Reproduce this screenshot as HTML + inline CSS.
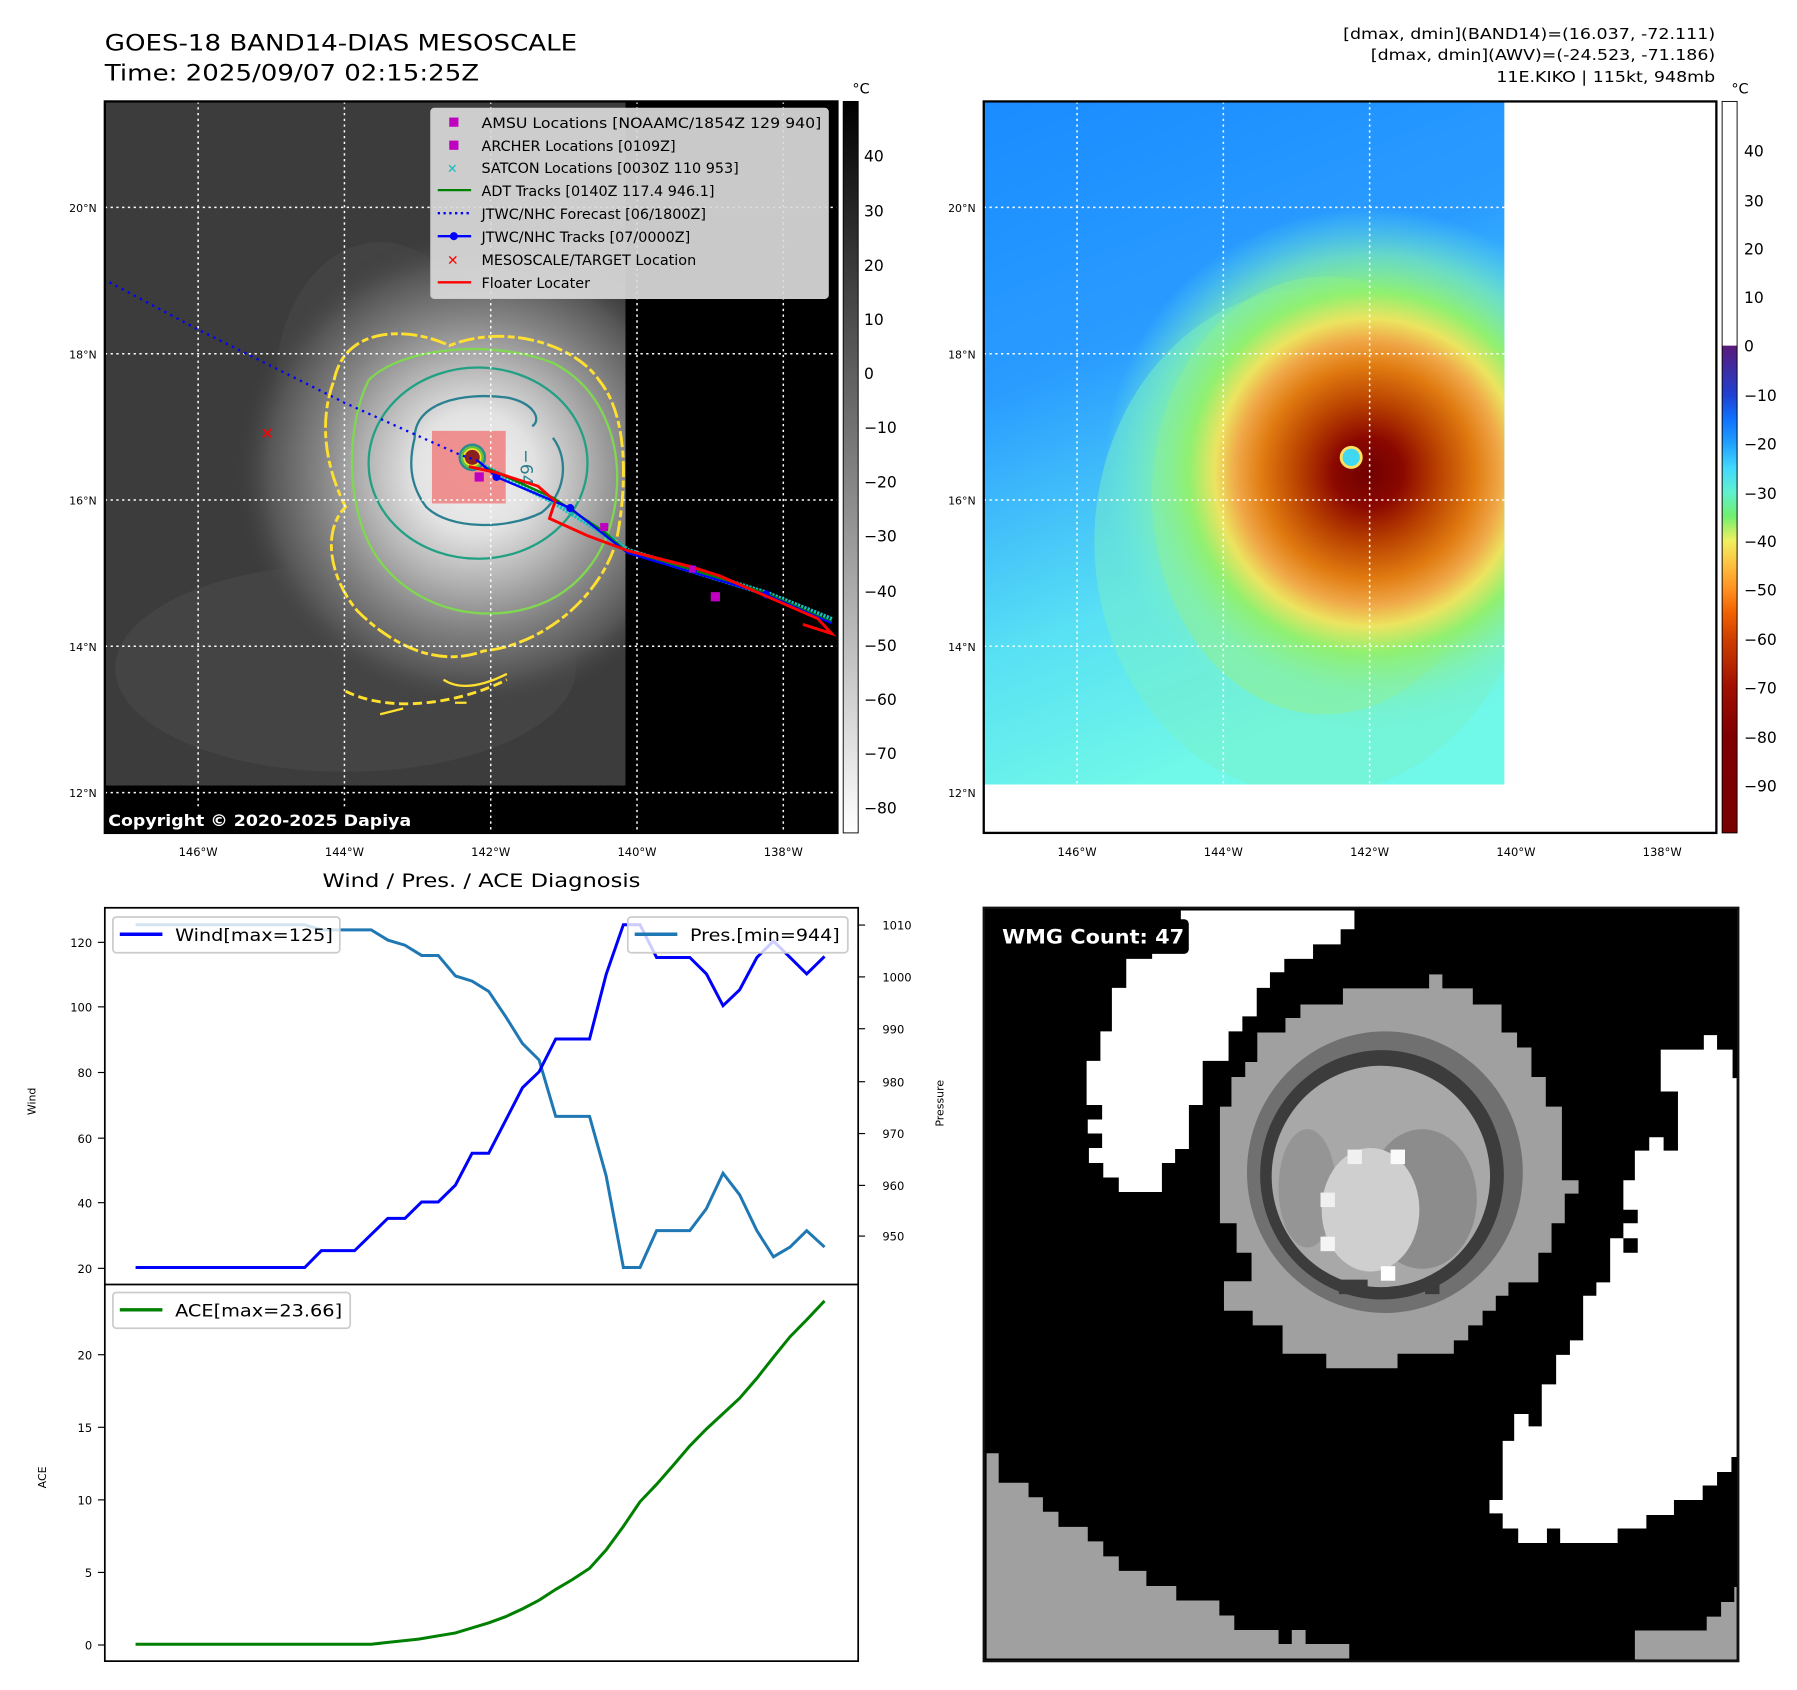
<!DOCTYPE html>
<html><head><meta charset="utf-8"><style>
html,body{margin:0;padding:0;background:#fff}
svg{display:block}
text{font-family:"DejaVu Sans","Liberation Sans",sans-serif}
</style></head><body>
<svg width="1797" height="1690" viewBox="0 0 1560 1467" xmlns="http://www.w3.org/2000/svg">
<defs>
<radialGradient id="cloud" cx="412" cy="410" r="210" gradientUnits="userSpaceOnUse">
<stop offset="0" stop-color="#f2f2f2"/><stop offset="0.25" stop-color="#e2e2e2"/><stop offset="0.45" stop-color="#b4b4b4"/><stop offset="0.65" stop-color="#828282"/><stop offset="0.85" stop-color="#565656"/><stop offset="1" stop-color="#3c3c3c" stop-opacity="0"/>
</radialGradient>
<linearGradient id="cb1" x1="0" y1="0" x2="0" y2="1"><stop offset="0" stop-color="#000"/><stop offset="1" stop-color="#fff"/></linearGradient>
<linearGradient id="cb2" x1="0" y1="0" x2="0" y2="1">
<stop offset="0" stop-color="#5a1a7a"/><stop offset="0.1" stop-color="#2040d0"/><stop offset="0.15" stop-color="#1070ff"/><stop offset="0.2" stop-color="#20a0ff"/><stop offset="0.25" stop-color="#40d8ff"/><stop offset="0.3" stop-color="#60f0d0"/><stop offset="0.35" stop-color="#70f070"/><stop offset="0.4" stop-color="#f0f060"/><stop offset="0.45" stop-color="#ffc040"/><stop offset="0.5" stop-color="#ff9020"/><stop offset="0.55" stop-color="#f06000"/><stop offset="0.6" stop-color="#d04000"/><stop offset="0.7" stop-color="#a01000"/><stop offset="0.8" stop-color="#800000"/><stop offset="1" stop-color="#7a0000"/></linearGradient>
<linearGradient id="bg2" x1="0" y1="0" x2="0.3" y2="1"><stop offset="0" stop-color="#1a8cff"/><stop offset="0.4" stop-color="#2a9cff"/><stop offset="0.75" stop-color="#58e0f4"/><stop offset="1" stop-color="#70f8e8"/></linearGradient>
<radialGradient id="storm2" cx="1188" cy="410" r="230" gradientUnits="userSpaceOnUse">
<stop offset="0" stop-color="#700000"/><stop offset="0.13" stop-color="#8a0800"/><stop offset="0.26" stop-color="#b84000"/><stop offset="0.4" stop-color="#e07a10"/><stop offset="0.5" stop-color="#f0a848"/><stop offset="0.58" stop-color="#ece460"/><stop offset="0.68" stop-color="#90f070"/><stop offset="0.82" stop-color="#80f0b0" stop-opacity="0.7"/><stop offset="1" stop-color="#70f0e0" stop-opacity="0"/></radialGradient>
<clipPath id="c1"><rect x="91" y="88" width="452" height="594"/></clipPath>
<clipPath id="c2"><rect x="854" y="88" width="452" height="593"/></clipPath>
<clipPath id="m1"><rect x="91" y="88" width="636" height="635"/></clipPath>
</defs>

<text x="91" y="44" font-size="19.5" textLength="410" lengthAdjust="spacingAndGlyphs">GOES-18 BAND14-DIAS MESOSCALE</text>
<text x="91" y="70" font-size="19.5" textLength="325" lengthAdjust="spacingAndGlyphs">Time: 2025/09/07 02:15:25Z</text>
<g font-size="13">
<text x="1166" y="34" textLength="323" lengthAdjust="spacingAndGlyphs">[dmax, dmin](BAND14)=(16.037, -72.111)</text>
<text x="1190" y="52" textLength="299" lengthAdjust="spacingAndGlyphs">[dmax, dmin](AWV)=(-24.523, -71.186)</text>
<text x="1299" y="71" textLength="190" lengthAdjust="spacingAndGlyphs">11E.KIKO | 115kt, 948mb</text>
</g>

<!-- MAP 1 -->
<rect x="91" y="88" width="636" height="635" fill="#000"/>
<g clip-path="url(#c1)">
<rect x="91" y="88" width="452" height="594" fill="#3c3c3c"/>
<ellipse cx="300" cy="580" rx="200" ry="90" fill="#4a4a4a" opacity="0.6"/>
<ellipse cx="330" cy="330" rx="90" ry="120" fill="#484848" opacity="0.6"/>
<rect x="91" y="88" width="452" height="594" fill="url(#cloud)"/>
</g>
<g clip-path="url(#m1)" fill="none">
<path d="M290,330 C300,280 360,285 390,300 C440,280 500,300 520,330 C545,360 545,420 535,470 C520,520 470,560 420,565 C380,580 340,560 310,530 C285,500 280,460 300,440 C285,410 275,370 290,330Z" stroke="#ffe030" stroke-width="2.5" stroke-dasharray="14 3 6 3"/>
<path d="M320,330 C350,300 430,295 480,315 C520,335 540,380 535,430 C530,480 500,520 450,530 C400,540 350,520 325,480 C300,440 300,370 320,330Z" stroke="#80d850" stroke-width="2"/>
<ellipse cx="415" cy="402" rx="95" ry="83" stroke="#22a084" stroke-width="2"/>
<path d="M360,380 C360,350 400,340 440,345 C465,350 470,365 462,370 M480,380 C495,400 490,430 470,445 C440,460 390,460 370,440 C355,420 355,400 360,380" stroke="#2a8090" stroke-width="2"/>
<path d="M300,600 C340,620 400,610 440,590" stroke="#ffe030" stroke-width="2.5" stroke-dasharray="8 4"/>
<path d="M385,590 C400,600 420,595 440,585 M395,610 l10,0 M330,620 l20,-5" stroke="#ffe030" stroke-width="2"/>
<rect x="375" y="374" width="64" height="63" fill="#f08080" opacity="0.85"/>
<circle cx="410" cy="397" r="12" fill="#2a8a90"/><circle cx="410" cy="397" r="10" fill="#60c040"/><circle cx="410" cy="397" r="8" fill="#f0e030"/><circle cx="410" cy="397" r="6.5" fill="#8a2020"/>
<text x="450" y="392" font-size="15" fill="#2a7f8a" transform="rotate(90 452 392)">−64</text>
<g stroke="#fff" stroke-width="1.3" stroke-dasharray="2 3">
<line x1="172" y1="88" x2="172" y2="723"/><line x1="299" y1="88" x2="299" y2="723"/><line x1="426" y1="88" x2="426" y2="723"/><line x1="553" y1="88" x2="553" y2="723"/><line x1="680" y1="88" x2="680" y2="723"/>
<line x1="91" y1="180" x2="727" y2="180"/><line x1="91" y1="307" x2="727" y2="307"/><line x1="91" y1="434" x2="727" y2="434"/><line x1="91" y1="561" x2="727" y2="561"/><line x1="91" y1="688" x2="727" y2="688"/>
</g>
<polyline points="95,245 170,285 300,350 400,395 415,400" stroke="#0000ff" stroke-width="2" stroke-dasharray="2 4"/>
<polyline points="420,405 480,435 520,460 545,478 600,495 665,515 722,538" stroke="#10c0c0" stroke-width="5" stroke-dasharray="2 1"/>
<polyline points="420,405 480,432 525,462 545,480 600,494 665,515 722,540" stroke="#008000" stroke-width="2"/>
<polyline points="415,400 431,414 495,441 545,480 602,497 665,516 722,541" stroke="#0000ff" stroke-width="2"/>
<g fill="#0000ff"><circle cx="431" cy="414" r="3.5"/><circle cx="495" cy="441" r="3.5"/><circle cx="602" cy="494" r="3.5"/><circle cx="665" cy="516" r="3.5"/></g>
<polyline points="407,405 430,410 467,422 482,435 477,450 510,465 545,478 600,492 625,500 710,537 722,550 697,542" stroke="#ff0000" stroke-width="2.5"/>
<g fill="#c000c0"><rect x="412" y="410" width="8" height="8"/><rect x="617" y="514" width="8" height="8"/><rect x="521" y="454" width="7" height="7"/><rect x="598" y="491" width="6" height="6"/></g>
<text x="226" y="381" font-size="14" fill="#f00" font-weight="bold">✕</text>
</g>
<rect x="91" y="700" width="270" height="23" fill="#000"/>
<text x="94" y="717" font-size="13.5" font-weight="bold" fill="#fff" textLength="263" lengthAdjust="spacingAndGlyphs">Copyright © 2020-2025 Dapiya</text>
<rect x="374" y="94" width="345" height="165" rx="3" fill="#dadada" fill-opacity="0.92" stroke="#ccc"/>
<g font-size="12.5">
<rect x="390" y="102" width="8" height="8" fill="#c000c0"/><text x="418" y="111" textLength="295" lengthAdjust="spacingAndGlyphs">AMSU Locations [NOAAMC/1854Z 129 940]</text>
<rect x="390" y="122" width="8" height="8" fill="#c000c0"/><text x="418" y="131">ARCHER Locations [0109Z]</text>
<text x="388" y="150" fill="#10c0c0" font-size="11" font-weight="bold">✕</text><text x="418" y="150">SATCON Locations [0030Z 110 953]</text>
<line x1="380" y1="165" x2="409" y2="165" stroke="#008000" stroke-width="2"/><text x="418" y="170">ADT Tracks [0140Z 117.4 946.1]</text>
<line x1="380" y1="185" x2="409" y2="185" stroke="#00f" stroke-width="2" stroke-dasharray="2 3"/><text x="418" y="190">JTWC/NHC Forecast [06/1800Z]</text>
<line x1="380" y1="205" x2="409" y2="205" stroke="#00f" stroke-width="2"/><circle cx="394" cy="205" r="3.5" fill="#00f"/><text x="418" y="210">JTWC/NHC Tracks [07/0000Z]</text>
<text x="388" y="230" fill="#f00" font-size="12" font-weight="bold">✕</text><text x="418" y="230">MESOSCALE/TARGET Location</text>
<line x1="380" y1="245" x2="409" y2="245" stroke="#f00" stroke-width="2"/><text x="418" y="250">Floater Locater</text>
</g>
<rect x="91" y="88" width="636" height="635" fill="none" stroke="#000" stroke-width="2"/>
<g font-size="9.5" text-anchor="end">
<text x="84" y="184">20°N</text><text x="84" y="311">18°N</text><text x="84" y="438">16°N</text><text x="84" y="565">14°N</text><text x="84" y="692">12°N</text>
<text x="847" y="184">20°N</text><text x="847" y="311">18°N</text><text x="847" y="438">16°N</text><text x="847" y="565">14°N</text><text x="847" y="692">12°N</text>
</g>
<g font-size="10" text-anchor="middle">
<text x="172" y="743">146°W</text><text x="299" y="743">144°W</text><text x="426" y="743">142°W</text><text x="553" y="743">140°W</text><text x="680" y="743">138°W</text>
<text x="935" y="743">146°W</text><text x="1062" y="743">144°W</text><text x="1189" y="743">142°W</text><text x="1316" y="743">140°W</text><text x="1443" y="743">138°W</text>
</g>
<rect x="732" y="88" width="13" height="635" fill="url(#cb1)" stroke="#000" stroke-width="0.8"/>
<text x="740" y="81" font-size="12.5">°C</text>
<g font-size="13.5">
<text x="750" y="140">40</text><text x="750" y="188">30</text><text x="750" y="235">20</text><text x="750" y="282">10</text><text x="750" y="329">0</text>
<text x="750" y="376">−10</text><text x="750" y="423">−20</text><text x="750" y="470">−30</text><text x="750" y="518">−40</text><text x="750" y="565">−50</text><text x="750" y="612">−60</text><text x="750" y="659">−70</text><text x="750" y="706">−80</text>
</g>

<!-- MAP 2 -->
<rect x="854" y="88" width="636" height="635" fill="#fff"/>
<g clip-path="url(#c2)">
<rect x="854" y="88" width="452" height="593" fill="url(#bg2)"/>
<ellipse cx="1140" cy="470" rx="190" ry="220" fill="#78f0c8" opacity="0.5"/>
<ellipse cx="1150" cy="430" rx="150" ry="190" fill="#a0f070" opacity="0.5"/>
<rect x="854" y="88" width="452" height="593" fill="url(#storm2)"/>
<circle cx="1173" cy="397" r="10" fill="#ffe060"/>
<circle cx="1173" cy="397" r="7.5" fill="#40d8f0"/>
</g>
<g stroke="#fff" stroke-width="1.3" stroke-dasharray="2 3">
<line x1="935" y1="88" x2="935" y2="723"/><line x1="1062" y1="88" x2="1062" y2="723"/><line x1="1189" y1="88" x2="1189" y2="723"/><line x1="1316" y1="88" x2="1316" y2="723"/><line x1="1443" y1="88" x2="1443" y2="723"/>
<line x1="854" y1="180" x2="1490" y2="180"/><line x1="854" y1="307" x2="1490" y2="307"/><line x1="854" y1="434" x2="1490" y2="434"/><line x1="854" y1="561" x2="1490" y2="561"/><line x1="854" y1="688" x2="1490" y2="688"/>
</g>
<rect x="854" y="88" width="636" height="635" fill="none" stroke="#000" stroke-width="2"/>
<rect x="1495" y="88" width="13" height="212" fill="#fff"/>
<rect x="1495" y="300" width="13" height="423" fill="url(#cb2)"/>
<rect x="1495" y="88" width="13" height="635" fill="none" stroke="#000" stroke-width="0.8"/>
<text x="1503" y="81" font-size="12.5">°C</text>
<g font-size="13.5">
<text x="1514" y="136">40</text><text x="1514" y="179">30</text><text x="1514" y="221">20</text><text x="1514" y="263">10</text><text x="1514" y="305">0</text>
<text x="1514" y="348">−10</text><text x="1514" y="390">−20</text><text x="1514" y="433">−30</text><text x="1514" y="475">−40</text><text x="1514" y="517">−50</text><text x="1514" y="560">−60</text><text x="1514" y="602">−70</text><text x="1514" y="645">−80</text><text x="1514" y="687">−90</text>
</g>

<!-- WIND / PRES / ACE -->
<text x="418" y="770" font-size="16.5" text-anchor="middle" textLength="276" lengthAdjust="spacingAndGlyphs">Wind / Pres. / ACE Diagnosis</text>
<rect x="91" y="788" width="654" height="654" fill="#fff"/>
<g transform="translate(0.22,776.88) scale(0.534,0.4449)" fill="none">
<polyline vector-effect="non-scaling-stroke" stroke="#1f77b4" stroke-width="3" points="220,58 495,58 522,68 549,68 603,68 630,88 658,98 685,118 712,118 740,158 767,168 794,188 822,238 849,290 876,322 903,432 958,432 985,548 1013,727 1040,727 1067,655 1121,655 1148,612 1175,543 1202,585 1230,655 1257,706 1284,687 1311,655 1340,687"/>
<polyline vector-effect="non-scaling-stroke" stroke="#0000ff" stroke-width="3" points="220,727 495,727 522,694 576,694 630,631 658,631 685,599 712,599 740,566 767,504 794,504 849,376 876,345 903,281 958,281 985,155 1013,58 1040,58 1067,122 1121,122 1148,154 1175,216 1202,185 1230,122 1257,90 1284,122 1311,154 1340,120"/>
<polyline vector-effect="non-scaling-stroke" stroke="#008000" stroke-width="3" points="220,1462 603,1462 680,1452 740,1440 795,1420 822,1408 849,1393 876,1376 903,1355 930,1336 958,1314 985,1278 1013,1232 1040,1184 1067,1150 1094,1113 1121,1075 1148,1042 1175,1012 1202,982 1230,943 1257,902 1284,862 1311,829 1340,792"/>
</g>
<line x1="91" y1="1115" x2="745" y2="1115" stroke="#000" stroke-width="1.5"/>
<rect x="91" y="788" width="654" height="654" fill="none" stroke="#000" stroke-width="1.5"/>
<rect x="98" y="796" width="197" height="31" rx="3" fill="#fff" fill-opacity="0.8" stroke="#ccc" stroke-width="1.5"/>
<line x1="104" y1="811" x2="141" y2="811" stroke="#00f" stroke-width="3"/><text x="152" y="817" font-size="15" textLength="137" lengthAdjust="spacingAndGlyphs">Wind[max=125]</text>
<rect x="545" y="796" width="191" height="31" rx="3" fill="#fff" fill-opacity="0.8" stroke="#ccc" stroke-width="1.5"/>
<line x1="551" y1="811" x2="588" y2="811" stroke="#1f77b4" stroke-width="3"/><text x="599" y="817" font-size="15" textLength="130" lengthAdjust="spacingAndGlyphs">Pres.[min=944]</text>
<rect x="98" y="1122" width="206" height="31" rx="3" fill="#fff" fill-opacity="0.8" stroke="#ccc" stroke-width="1.5"/>
<line x1="104" y1="1137" x2="141" y2="1137" stroke="#008000" stroke-width="3"/><text x="152" y="1143" font-size="15" textLength="145" lengthAdjust="spacingAndGlyphs">ACE[max=23.66]</text>
<g font-size="10" text-anchor="end">
<text x="80" y="822">120</text><text x="80" y="878">100</text><text x="80" y="935">80</text><text x="80" y="992">60</text><text x="80" y="1048">40</text><text x="80" y="1105">20</text>
<text x="80" y="1180">20</text><text x="80" y="1243">15</text><text x="80" y="1306">10</text><text x="80" y="1369">5</text><text x="80" y="1432">0</text>
</g>
<g stroke="#000" stroke-width="1">
<line x1="85" y1="818" x2="91" y2="818"/><line x1="85" y1="874" x2="91" y2="874"/><line x1="85" y1="931" x2="91" y2="931"/><line x1="85" y1="988" x2="91" y2="988"/><line x1="85" y1="1044" x2="91" y2="1044"/><line x1="85" y1="1101" x2="91" y2="1101"/>
<line x1="85" y1="1176" x2="91" y2="1176"/><line x1="85" y1="1239" x2="91" y2="1239"/><line x1="85" y1="1302" x2="91" y2="1302"/><line x1="85" y1="1365" x2="91" y2="1365"/><line x1="85" y1="1428" x2="91" y2="1428"/>
<line x1="745" y1="803" x2="751" y2="803"/><line x1="745" y1="848" x2="751" y2="848"/><line x1="745" y1="893" x2="751" y2="893"/><line x1="745" y1="939" x2="751" y2="939"/><line x1="745" y1="984" x2="751" y2="984"/><line x1="745" y1="1029" x2="751" y2="1029"/><line x1="745" y1="1073" x2="751" y2="1073"/>
</g>
<g font-size="10">
<text x="766" y="807">1010</text><text x="766" y="852">1000</text><text x="766" y="897">990</text><text x="766" y="943">980</text><text x="766" y="988">970</text><text x="766" y="1033">960</text><text x="766" y="1077">950</text>
</g>
<text font-size="9.5" transform="translate(31,968) rotate(-90)">Wind</text>
<text font-size="9.5" transform="translate(40,1292) rotate(-90)">ACE</text>
<text font-size="9.5" transform="translate(819,978) rotate(-90)">Pressure</text>

<!-- WMG panel -->
<rect x="854" y="788" width="655" height="654" fill="#000"/>
<g transform="translate(785.65,742.28) scale(0.4989,0.4665)">
<polygon fill="#fff" points="480,103 782,103 782,138 758,138 758,166 710,166 710,193 660,193 660,218 635,218 635,247 612,247 612,300 587,300 587,328 563,328 563,383 518,383 518,465 494,465 494,547 470,547 470,573 447,573 447,627 372,627 372,600 345,600 345,573 320,573 320,545 343,545 343,518 318,518 318,492 343,492 343,465 316,465 316,383 340,383 340,328 360,328 360,247 385,247 385,193 430,193 430,166 480,166"/>
<polygon fill="#fff" points="1315,362 1390,362 1390,335 1413,335 1413,362 1440,362 1440,415 1447,415 1447,1120 1438,1120 1438,1148 1413,1148 1413,1173 1388,1173 1388,1200 1338,1200 1338,1228 1290,1228 1290,1253 1240,1253 1240,1280 1140,1280 1140,1253 1117,1253 1117,1280 1067,1280 1067,1253 1040,1253 1040,1225 1017,1225 1017,1200 1040,1200 1040,1090 1060,1090 1060,1040 1085,1040 1085,1063 1108,1063 1108,985 1133,985 1133,930 1157,930 1157,903 1180,903 1180,820 1203,820 1203,795 1227,795 1227,713 1250,713 1250,685 1275,685 1275,660 1250,660 1250,605 1270,605 1270,550 1295,550 1295,525 1320,525 1320,550 1345,550 1345,440 1315,440"/>
<rect x="1250" y="713" width="25" height="27" fill="#000"/>
<polygon fill="#a0a0a0" points="142,1113 163,1113 163,1168 215,1168 215,1195 240,1195 240,1222 267,1222 267,1250 318,1250 318,1277 345,1277 345,1305 372,1305 372,1332 420,1332 420,1360 472,1360 472,1387 547,1387 547,1415 573,1415 573,1442 650,1442 650,1468 673,1468 673,1442 697,1442 697,1468 773,1468 773,1495 142,1495"/>
<polygon fill="#a0a0a0" points="1270,1443 1395,1443 1395,1417 1420,1417 1420,1390 1443,1390 1443,1362 1447,1362 1447,1497 1270,1497"/>
<polygon fill="#a0a0a0" points="762,248 988,248 988,278 1038,278 1038,330 1065,330 1065,358 1090,358 1090,413 1115,413 1115,468 1143,468 1143,605 1172,605 1172,630 1148,630 1148,685 1125,685 1125,740 1102,740 1102,795 1050,795 1050,820 1028,820 1028,848 1005,848 1005,875 980,875 980,903 955,903 955,928 857,928 857,955 733,955 733,928 657,928 657,875 605,875 605,848 555,848 555,793 603,793 603,740 577,740 577,685 548,685 548,468 568,468 568,413 592,413 592,385 613,385 613,330 662,330 662,303 688,303 688,278 762,278"/>
<rect x="912" y="222" width="23" height="28" fill="#a0a0a0"/>
<ellipse cx="835" cy="590" rx="240" ry="262" fill="#707070"/>
<ellipse cx="830" cy="595" rx="212" ry="232" fill="#3c3c3c"/>
<ellipse cx="828" cy="598" rx="190" ry="206" fill="#a8a8a8"/>
<ellipse cx="900" cy="640" rx="95" ry="130" fill="#8c8c8c"/>
<ellipse cx="700" cy="620" rx="50" ry="110" fill="#959595"/>
<ellipse cx="810" cy="660" rx="85" ry="115" fill="#cfcfcf"/>
<rect x="770" y="548" width="25" height="27" fill="#f0f0f0"/><rect x="845" y="548" width="25" height="27" fill="#fafafa"/>
<rect x="723" y="628" width="25" height="27" fill="#f0f0f0"/><rect x="723" y="710" width="25" height="27" fill="#f4f4f4"/><rect x="828" y="765" width="25" height="27" fill="#fff"/>
<rect x="755" y="790" width="50" height="27" fill="#3c3c3c"/><rect x="905" y="790" width="25" height="27" fill="#3c3c3c"/>
</g>
<rect x="862" y="798" width="170" height="30" rx="4" fill="#000"/>
<text x="870" y="819" font-size="17" font-weight="bold" fill="#fff" textLength="158" lengthAdjust="spacingAndGlyphs">WMG Count: 47</text>
<rect x="854" y="788" width="655" height="654" fill="none" stroke="#111" stroke-width="2"/>
</svg>
</body></html>
